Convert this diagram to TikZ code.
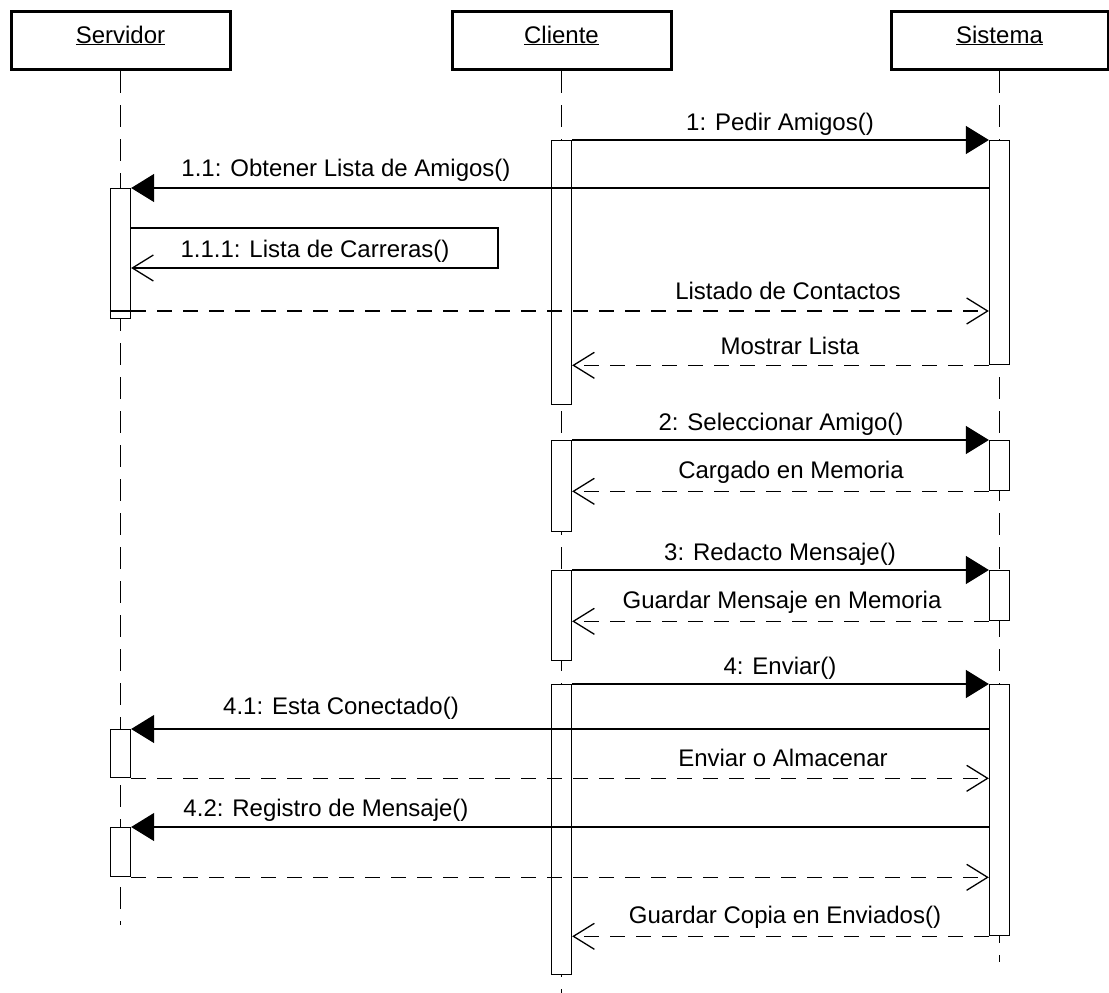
\documentclass[tikz,border=0pt]{standalone}
\usepackage{fontspec}
\setmainfont{Liberation Sans}
\usetikzlibrary{arrows.meta,positioning}

\tikzstyle{head} = [draw, line width=3pt, minimum width=219pt, minimum height=58pt, text height=17pt, text depth=12pt, inner sep=0pt]
\tikzstyle{act} = [draw, fill=white, line width=1.3pt, minimum width=20pt, inner sep=0pt, anchor=north]
\tikzstyle{life} = [line width=1.3pt, dash pattern=on 22pt off 12pt]
\tikzstyle{call} = [line width=1.3pt, -{Triangle[length=23pt,width=28pt]}]
\tikzstyle{self} = [line width=1.3pt, -{Straight Barb[length=21pt,width=26pt]}]
\tikzstyle{ret} = [line width=1.3pt, dash pattern=on 15pt off 11pt, -{Straight Barb[length=21pt,width=26pt]}]
\tikzstyle{msg} = [anchor=base, inner sep=0pt]

\begin{document}
\begin{tikzpicture}[x=1pt, y=-1pt, font=\fontsize{24}{28}\selectfont]
\useasboundingbox (0,0) rectangle (1109,993);

% Objetos
\node[head] (srv) at (120.5,40.5) {\underline{Servidor}};
\node[head] (cli) at (561.5,40.5) {\underline{Cliente}};
\node[head, minimum width=217pt] (sis) at (999.5,40.5) {\underline{Sistema}};

% Lineas de vida
\draw[life] (srv.south) -- (srv.south |- 0,925);
\draw[life] (cli.south) -- (cli.south |- 0,993);
\draw[life] (sis.south) -- (sis.south |- 0,962);

% Activaciones
\node[act, minimum height=130pt] (srvA1) at (120.5,188) {};
\node[act, minimum height=48pt] (srvA2) at (120.5,729) {};
\node[act, minimum height=49pt] (srvA3) at (120.5,827) {};

\node[act, minimum height=264pt] (cliA1) at (561.5,140) {};
\node[act, minimum height=91pt] (cliA2) at (561.5,440) {};
\node[act, minimum height=90pt] (cliA3) at (561.5,570) {};
\node[act, minimum height=290pt] (cliA4) at (561.5,684) {};

\node[act, minimum height=224pt] (sisA1) at (999.5,140) {};
\node[act, minimum height=50pt] (sisA2) at (999.5,440) {};
\node[act, minimum height=50pt] (sisA3) at (999.5,570) {};
\node[act, minimum height=251pt] (sisA4) at (999.5,684) {};

% 1: Pedir Amigos
\draw[call] (cliA1.north east) -- (sisA1.north west);
\node[msg] (m1) at (780,130) {1: Pedir Amigos()};

\draw[call] (sisA1.west |- srvA1.north) -- (srvA1.north east);
\node[msg] (m11) at (346,176) {1.1: Obtener Lista de Amigos()};

% mensaje a si mismo
\coordinate (selfT) at (498,228);
\coordinate (selfB) at (498,268);
\draw[self] (srvA1.east |- selfT) -- (selfT) -- (selfB) -- (srvA1.east |- selfB);
\node[msg] (m111) at (315,257) {1.1.1: Lista de Carreras()};

\draw[line width=1.3pt] (srvA1.west |- 0,311) -- (srvA1.east |- 0,311);
\draw[ret] (srvA1.east |- 0,311) -- (sisA1.west |- 0,311);
\node[msg] (r11) at (788,299) {Listado de Contactos};

\draw[ret] (sisA1.south west) -- (cliA1.east |- sisA1.south);
\node[msg] (r1) at (790,354) {Mostrar Lista};

% 2: Seleccionar Amigo
\draw[call] (cliA2.north east) -- (sisA2.north west);
\node[msg] (m2) at (781,430) {2: Seleccionar Amigo()};
\draw[ret] (sisA2.south west) -- (cliA2.east |- sisA2.south);
\node[msg] (r2) at (791,478) {Cargado en Memoria};

% 3: Redacto Mensaje
\draw[call] (cliA3.north east) -- (sisA3.north west);
\node[msg] (m3) at (780,560) {3: Redacto Mensaje()};
\draw[ret] (sisA3.south west) -- (cliA3.east |- sisA3.south);
\node[msg] (r3) at (782,608) {Guardar Mensaje en Memoria};

% 4: Enviar
\draw[call] (cliA4.north east) -- (sisA4.north west);
\node[msg] (m4) at (780,674) {4: Enviar()};

\draw[call] (sisA4.west |- srvA2.north) -- (srvA2.north east);
\node[msg] (m41) at (341,714) {4.1: Esta Conectado()};
\draw[ret] (srvA2.south east) -- (sisA4.west |- srvA2.south);
\node[msg] (r41) at (783,766) {Enviar o Almacenar};

\draw[call] (sisA4.west |- srvA3.north) -- (srvA3.north east);
\node[msg] (m42) at (326,816) {4.2: Registro de Mensaje()};
\draw[ret] (srvA3.south east) -- (sisA4.west |- srvA3.south);

\draw[ret] (sisA4.south west) -- (cliA4.east |- sisA4.south);
\node[msg] (r4) at (785,923) {Guardar Copia en Enviados()};
\end{tikzpicture}
\end{document}
